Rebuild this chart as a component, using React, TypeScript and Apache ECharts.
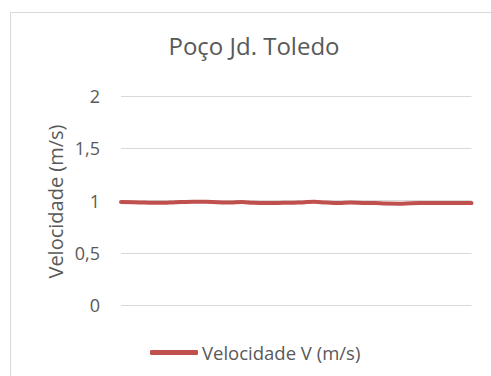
import React, { useEffect, useRef } from "react";
import * as echarts from "echarts";

const titleText = "Poço Jd. Toledo";
const yAxisName = "Velocidade (m/s)";
const seriesName = "Velocidade V (m/s)";
const yTicks = [0, 0.5, 1, 1.5, 2];
const categories = Array.from({ length: 30 }, (_, i) => String(i + 1));
const velocity = [
  0.985, 0.984, 0.98, 0.978, 0.98, 0.985, 0.988, 0.987, 0.983, 0.98,
  0.985, 0.978, 0.976, 0.977, 0.978, 0.982, 0.987, 0.98, 0.976, 0.98,
  0.977, 0.975, 0.971, 0.97, 0.974, 0.976, 0.977, 0.977, 0.976, 0.975,
];

const FONT = "'Open Sans', sans-serif";
const TEXT = "#595959";
const GRIDC = "#d9d9d9";

export default function App() {
  const ref = useRef<HTMLDivElement>(null);
  useEffect(() => {
    if (!ref.current) return;
    const chart = echarts.init(ref.current, null, { renderer: "svg" });
    chart.setOption({
      animation: false,
      backgroundColor: "#ffffff",
      graphic: [
        {
          type: "rect",
          shape: { x: 10.5, y: 12.5, width: 1000, height: 1000 },
          style: { fill: "none", stroke: GRIDC, lineWidth: 1 },
          silent: true,
        },
        {
          type: "text",
          x: 55,
          y: 201.5,
          rotation: Math.PI / 2,
          silent: true,
          style: {
            text: yAxisName,
            fontFamily: FONT,
            fontSize: 20,
            fill: TEXT,
            align: "center",
            verticalAlign: "middle",
          },
        },
      ],
      title: {
        text: titleText,
        left: 254,
        top: 33,
        textAlign: "center",
        padding: 0,
        textStyle: { fontFamily: FONT, fontSize: 24, fontWeight: "normal", color: TEXT },
      },
      legend: {
        left: 150,
        top: 343,
        icon: "roundRect",
        itemWidth: 48,
        itemHeight: 5,
        itemGap: 10,
        padding: 0,
        textStyle: { fontFamily: FONT, fontSize: 18.5, color: TEXT, padding: [0, 0, 0, -1] },
        data: [seriesName],
      },
      grid: { left: 121, right: 19.5, top: 96, bottom: 71, containLabel: false },
      xAxis: {
        type: "category",
        data: categories,
        boundaryGap: false,
        axisLabel: { show: false },
        axisTick: { show: false },
        axisLine: { show: false },
        splitLine: { show: false },
      },
      yAxis: {
        type: "value",
        min: yTicks[0],
        max: yTicks[yTicks.length - 1],
        interval: 0.5,
        axisLine: { show: false },
        axisTick: { show: false },
        axisLabel: {
          margin: 21,
          fontFamily: FONT,
          fontSize: 18,
          color: TEXT,
          formatter: (v: number) => String(v).replace(".", ","),
        },
        splitLine: { lineStyle: { color: GRIDC, width: 1 } },
      },
      series: [
        {
          name: seriesName,
          type: "line",
          data: velocity,
          symbol: "none",
          smooth: true,
          lineStyle: { color: "#C0504D", width: 4, cap: "round", join: "round" },
          itemStyle: { color: "#C0504D" },
        },
      ],
    });
    return () => chart.dispose();
  }, []);
  return (
    <div
      ref={ref}
      style={{ position: "absolute", left: 0, top: 0, width: 491, height: 376 }}
    />
  );
}
